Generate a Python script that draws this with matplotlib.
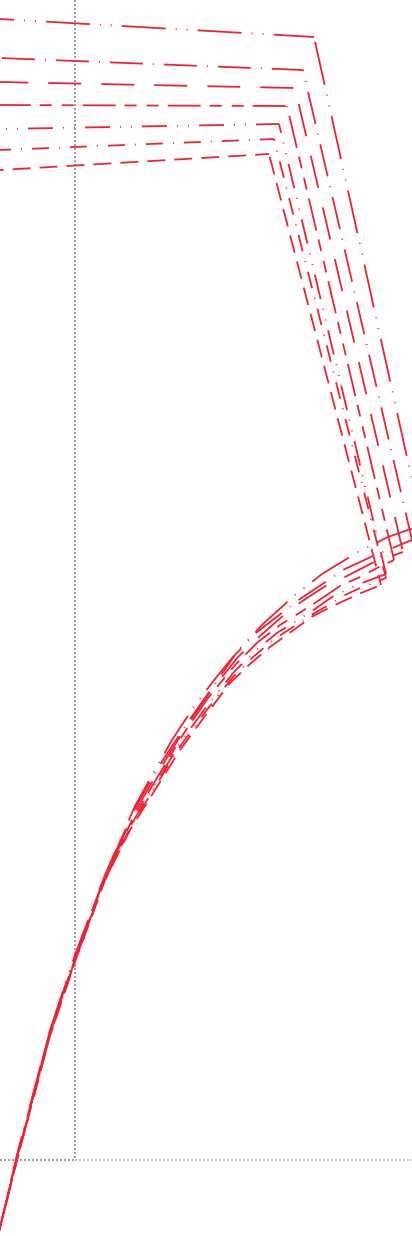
import matplotlib
matplotlib.use('Agg')
import matplotlib.pyplot as plt

# values, top line first
# index 0 = left edge, 1 = upper corner, 2 = lower corner, rest = curve
x1 = [0, 314, 422, 388, 358, 322, 295, 264, 241, 215, 195, 172, 155, 135, 105, 75, 50, 17, -3]
y1 = [19, 37, 525, 537, 552, 574, 595, 623, 647, 679, 705, 740, 770, 806, 875, 955, 1030, 1155, 1240]
x2 = [0, 303, 412, 373, 345, 327, 300, 283, 256, 235, 212, 188, 159, 134, 105, 75, 50, 17, -3]
y2 = [58, 70, 540, 556, 569, 581, 599, 612, 633, 655, 688, 722, 766, 810, 876, 956, 1031, 1156, 1240]
x3 = [0, 295, 403, 374, 345, 327, 301, 285, 260, 238, 210, 186, 158, 133, 105, 75, 50, 17, -3]
y3 = [82, 88, 552, 562, 577, 585, 602, 614, 636, 657, 692, 727, 772, 815, 877, 958, 1032, 1157, 1240]
x4 = [0, 287, 394, 379, 360, 340, 312, 280, 258, 236, 208, 184, 157, 132, 105, 75, 50, 17, -3]
y4 = [105, 106, 560, 567, 577, 586, 605, 625, 642, 664, 698, 733, 778, 820, 878, 959, 1033, 1158, 1240]
x5 = [0, 279, 386, 362, 342, 332, 312, 277, 255, 234, 207, 182, 156, 131, 105, 75, 50, 17, -3]
y5 = [129, 124, 574, 583, 592, 597, 611, 633, 651, 672, 706, 740, 783, 825, 879, 960, 1034, 1159, 1240]
x6 = [0, 274, 386, 360, 345, 327, 313, 273, 252, 232, 206, 181, 155, 130, 105, 75, 50, 17, -3]
y6 = [150, 139, 578, 588, 595, 606, 614, 640, 658, 678, 711, 745, 787, 828, 880, 961, 1035, 1160, 1240]
x7 = [0, 269, 381, 361, 337, 313, 270, 250, 230, 205, 180, 155, 130, 105, 75, 50, 17, -3]
y7 = [170, 154, 585, 593, 604, 616, 647, 664, 683, 716, 750, 790, 830, 880, 962, 1036, 1160, 1240]

xs = [x1, x2, x3, x4, x5, x6, x7]
ys = [y1, y2, y3, y4, y5, y6, y7]

# dash patterns in px (figure is 72 dpi so 1pt = 1px)
patterns = [
    (44, 10, 1, 10, 1, 10),
    (33, 10, 1, 10),
    (33, 20),
    (33, 9, 12, 10, 12, 9),
    (25, 10, 1, 10, 1, 10),
    (17, 10, 1, 10),
    (18, 9),
]
# every stretch of a line restarts its dashes
top_offsets = [30, 52, 4.7, 2.3, 29, 6, 14.4]
side_offsets = [71, 31.7, 36.5, 75, 16, 15, 24]
curve_offsets = [5.4, 12, 22, 26, 0, 10, 22.5]

vline_x = 75
hline_y = 1160

plt.rcParams['lines.scale_dashes'] = False

fig = plt.figure(figsize=(412 / 72, 1236 / 72), dpi=72)
ax = fig.add_axes([0, 0, 1, 1])
ax.set_xlim(0, 412)
ax.set_ylim(1236, 0)
ax.axis('off')

# crosshair
ax.plot([vline_x, vline_x], [0, hline_y], color='#808080', lw=1.5, ls=(0, (2, 2)))
ax.plot([0, vline_x], [hline_y, hline_y], color='#808080', lw=1.5, ls=(0, (2, 2)))
ax.plot([vline_x, 412], [hline_y, hline_y], color='#b0b0b0', lw=1.5, ls=(0, (2, 2)))

for i in range(len(xs)):
    x, y, p = xs[i], ys[i], patterns[i]
    ax.plot(x[:2], y[:2], color='#ee2233', lw=1.8, ls=(top_offsets[i], p), dash_capstyle='butt')
    ax.plot(x[1:3], y[1:3], color='#ee2233', lw=1.8, ls=(side_offsets[i], p), dash_capstyle='butt')
    ax.plot(x[2:], y[2:], color='#ee2233', lw=1.8, ls=(curve_offsets[i], p), dash_capstyle='butt')

fig.savefig('out.png', dpi=72)
